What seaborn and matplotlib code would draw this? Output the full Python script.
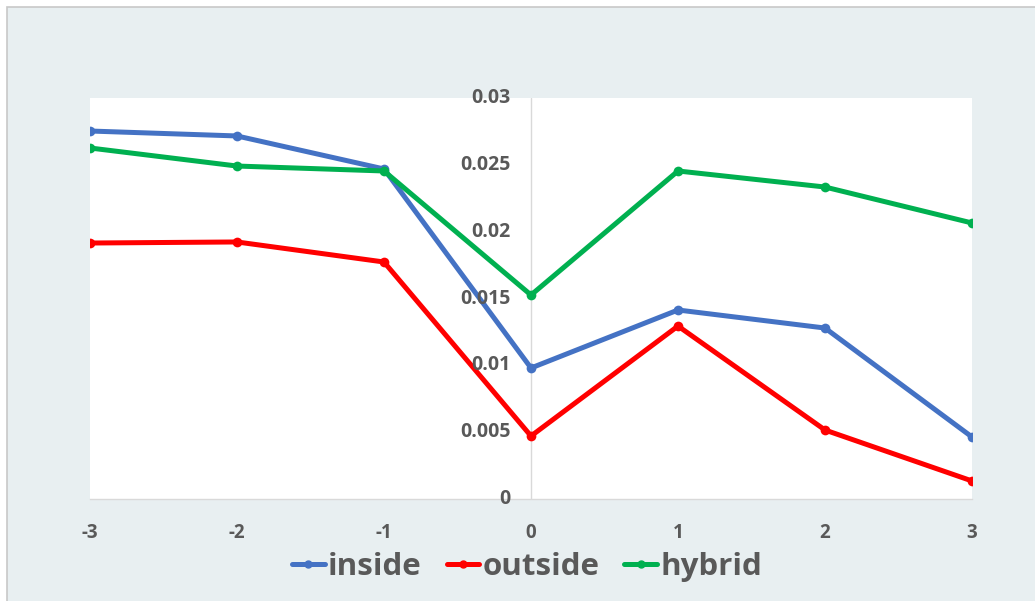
import numpy as np
import pandas as pd
import seaborn as sns
import matplotlib.pyplot as plt
from matplotlib.patches import Rectangle
from matplotlib.lines import Line2D

positions = [-3, -2, -1, 0, 1, 2, 3]
inside = [0.02753, 0.02716, 0.02469, 0.0098, 0.01414, 0.01279, 0.00464]
outside = [0.01915, 0.01923, 0.01773, 0.00471, 0.01294, 0.00516, 0.00135]
hybrid = [0.02626, 0.02491, 0.02454, 0.01526, 0.02454, 0.02334, 0.02065]
series_names = ["inside", "outside", "hybrid"]
series_colors = ["#4472C4", "#FF0000", "#00B050"]
y_ticks = [0, 0.005, 0.01, 0.015, 0.02, 0.025, 0.03]
y_tick_labels = ["0", "0.005", "0.01", "0.015", "0.02", "0.025", "0.03"]

df = pd.DataFrame({
    "x": positions * 3,
    "value": inside + outside + hybrid,
    "series": np.repeat(series_names, len(positions)),
})

sns.set_theme(style="white")
plt.rcParams["font.family"] = ["Open Sans", "DejaVu Sans"]

text_color = "#595959"
bg = "#E8EFF1"

fig = plt.figure(figsize=(10.35, 6.01), dpi=100, facecolor="white")
# outer panel with thin border
fig.patches.append(Rectangle((7 / 1035, -0.01), 1.02, (601 - 7) / 601 + 0.01,
                             transform=fig.transFigure, facecolor=bg,
                             edgecolor="#C8C8C8", linewidth=1.2, zorder=-10))

ax = fig.add_axes([90 / 1035, (601 - 499) / 601, (972 - 90) / 1035, (499 - 98) / 601])
ax.set_facecolor("white")

sns.lineplot(data=df, x="x", y="value", hue="series", hue_order=series_names,
             palette=series_colors, marker="o", markersize=7, markeredgewidth=0,
             linewidth=3.6, ax=ax, legend=False)

ax.set_xlim(-3, 3)
ax.set_ylim(0, 0.03)
ax.set_xlabel("")
ax.set_ylabel("")

for s in ["top", "right", "left"]:
    ax.spines[s].set_visible(False)
ax.spines["bottom"].set_color("#D9D9D9")
ax.spines["bottom"].set_linewidth(1.0)
ax.axvline(0, color="#D9D9D9", linewidth=1.0, zorder=0)

ax.set_xticks(positions)
ax.set_xticklabels([str(p) for p in positions], fontsize=13.5, fontweight="bold",
                   color=text_color)
ax.tick_params(axis="x", length=0, pad=17)

ax.set_yticks([])
for v, lab in zip(y_ticks, y_tick_labels):
    ax.text(-0.14, v, lab, ha="right", va="center", fontsize=14,
            fontweight="bold", color=text_color, clip_on=False)

handles = [Line2D([0], [0], color=c, linewidth=3.6, marker="o", markersize=5)
           for c in series_colors]
leg = fig.legend(handles, series_names, loc="center", ncol=3,
                 bbox_to_anchor=(527 / 1035, 1 - 567 / 601), frameon=False,
                 handlelength=1.05, handletextpad=0.1, columnspacing=0.8,
                 prop={"size": 22.5, "weight": "bold"})
for t in leg.get_texts():
    t.set_color(text_color)

fig.savefig("out.png", dpi=100, facecolor=fig.get_facecolor())
